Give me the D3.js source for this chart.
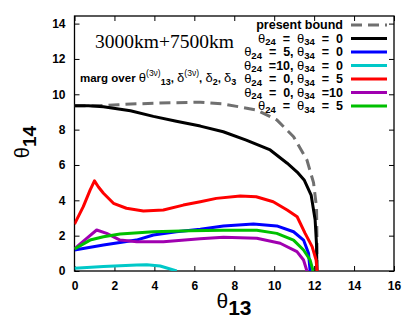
<!DOCTYPE html>
<html>
<head>
<meta charset="utf-8">
<script src="https://cdn.jsdelivr.net/npm/d3@7"></script>
<style>
  body { margin: 0; background: #fff; }
  text { white-space: pre; }
</style>
</head>
<body>
<div id="chart"></div>
<script>
// Data (theta13 on x, theta14 on y)
const xTicks = [0, 2, 4, 6, 8, 10, 12, 14, 16];
const yTicks = [0, 2, 4, 6, 8, 10, 12, 14];

const boundX = [0, 1.45, 2.2, 3.1, 4.8, 6.3, 7.46, 9.13, 10.13, 10.97, 11.64, 11.97, 12.12, 12.14, 12.14];
const boundY = [9.35, 9.36, 9.41, 9.46, 9.52, 9.55, 9.45, 9.11, 8.55, 7.6, 6.28, 5.0, 3.6, 2.0, 0];

const zeroX = [0, 0.7, 1.45, 2.8, 3.95, 5.1, 6.3, 7.45, 8.6, 9.8, 10.65, 11.15, 11.5, 11.85, 12.05, 12.12, 12.14];
const zeroY = [9.35, 9.35, 9.3, 9.07, 8.75, 8.47, 8.2, 7.88, 7.41, 6.85, 6.1, 5.6, 5.15, 4.3, 2.9, 1.5, 0];

const t24_5X = [0, 1.45, 3.1, 3.95, 5.1, 6.3, 7.46, 8.96, 10.13, 10.97, 11.47, 11.72, 11.8];
const t24_5Y = [1.19, 1.47, 1.75, 2.04, 2.22, 2.36, 2.55, 2.66, 2.55, 2.22, 1.75, 1.0, 0];

const t24_10X = [0, 1.45, 3.12, 3.62, 4.29, 5.12];
const t24_10Y = [0.15, 0.25, 0.34, 0.36, 0.28, 0];

const t34_5X = [0, 0.44, 0.78, 1.0, 1.2, 1.45, 1.95, 2.6, 3.45, 4.45, 5.45, 6.3, 7.1, 8.3, 9.1, 9.95, 10.65, 11.15, 11.55, 11.9, 12.1, 12.15];
const t34_5Y = [2.65, 3.64, 4.58, 5.1, 4.75, 4.4, 3.83, 3.55, 3.4, 3.45, 3.73, 3.92, 4.11, 4.24, 4.2, 3.92, 3.45, 3.07, 2.13, 1.38, 0.62, 0];

const t34_10X = [0, 0.61, 1.11, 1.61, 2.28, 3.12, 4.45, 6.29, 7.46, 9.13, 10.3, 11.14, 11.47, 11.64];
const t34_10Y = [1.25, 1.85, 2.32, 2.13, 1.75, 1.66, 1.66, 1.82, 1.91, 1.85, 1.57, 1.1, 0.62, 0];

const bothX = [0, 0.78, 1.45, 2.28, 3.95, 5.8, 7.46, 9.13, 10.13, 10.97, 11.47, 11.8, 11.95];
const bothY = [1.25, 1.75, 1.94, 2.09, 2.22, 2.28, 2.3, 2.3, 2.13, 1.75, 1.19, 0.62, 0];

// Legend labels: [theta24 part, theta34 part]
const legendLabels = [
  null,
  ["  =  ", "  =  0"],
  ["  =  5, ", "  =  0"],
  ["  =10, ", "  =  0"],
  ["  =  0, ", "  =  5"],
  ["  =  0, ", "  =10"],
  ["  =  ", "  =  5"]
];

// Series
const series = [
  {x: boundX, y: boundY, colour: "#707070", dash: "11,6"},
  {x: zeroX, y: zeroY, colour: "#000000"},
  {x: t24_5X, y: t24_5Y, colour: "#0000ff"},
  {x: t24_10X, y: t24_10Y, colour: "#00c8c8"},
  {x: t34_5X, y: t34_5Y, colour: "#ff0000"},
  {x: t34_10X, y: t34_10Y, colour: "#a000b0"},
  {x: bothX, y: bothY, colour: "#00c000"}
];

// Dimensions
const dims = {width: 409, height: 326};
const plot = {left: 74.5, right: 394, top: 16, bottom: 271};

const x = d3.scaleLinear().domain([0, 16]).range([plot.left, plot.right]);
const y = d3.scaleLinear().domain([0, 14.43]).range([plot.bottom, plot.top]);

const sans = "'Liberation Sans', Arial, Helvetica, sans-serif";

// SVG
const svg = d3.select('#chart')
  .append('svg')
  .attr('width', dims.width)
  .attr('height', dims.height)
  .style('background', '#fff');

svg.append('clipPath').attr('id', 'clip')
  .append('rect')
  .attr('x', plot.left).attr('y', plot.top)
  .attr('width', plot.right - plot.left).attr('height', plot.bottom - plot.top);

// Axes (ticks inward, mirrored)
const axisStyle = g => {
  g.select('.domain').remove();
  g.selectAll('text')
    .attr('font-family', sans).attr('font-weight', 'bold')
    .attr('font-size', 12).attr('fill', '#000');
};

svg.append('g')
  .attr('transform', `translate(0,${plot.bottom})`)
  .call(d3.axisBottom(x).tickValues(xTicks).tickSize(-5).tickPadding(10).tickFormat(d3.format('d')))
  .call(axisStyle);

svg.append('g')
  .attr('transform', `translate(0,${plot.top})`)
  .call(d3.axisTop(x).tickValues(xTicks).tickSize(-5).tickFormat(''))
  .call(axisStyle);

svg.append('g')
  .attr('transform', `translate(${plot.left},0)`)
  .call(d3.axisLeft(y).tickValues(yTicks).tickSize(-5).tickPadding(9).tickFormat(d3.format('d')))
  .call(axisStyle);

svg.append('g')
  .attr('transform', `translate(${plot.right},0)`)
  .call(d3.axisRight(y).tickValues(yTicks).tickSize(-5).tickFormat(''))
  .call(axisStyle);

// Frame
svg.append('rect')
  .attr('x', plot.left).attr('y', plot.top)
  .attr('width', plot.right - plot.left).attr('height', plot.bottom - plot.top)
  .attr('fill', 'none').attr('stroke', '#000').attr('stroke-width', 1.3);

// Curves
const line = d3.line()
  .x(d => x(d[0]))
  .y(d => y(d[1]));

const curves = svg.append('g').attr('clip-path', 'url(#clip)');

curves.selectAll('path')
  .data(series)
  .enter()
  .append('path')
    .attr('d', s => line(d3.zip(s.x, s.y)))
    .attr('fill', 'none')
    .attr('stroke', s => s.colour)
    .attr('stroke-width', 3)
    .attr('stroke-linejoin', 'round')
    .attr('stroke-dasharray', s => s.dash || null);

// Helper: append text pieces [string, options]
const addPieces = (textSel, pieces) => {
  pieces.forEach(p => {
    const o = p[1] || {};
    const t = textSel.append('tspan').text(p[0]);
    if (o.size) t.attr('font-size', o.size);
    if (o.weight) t.attr('font-weight', o.weight);
    if (o.family) t.attr('font-family', o.family);
    if (o.dy) t.attr('dy', o.dy);
  });
};

// Title
svg.append('text')
  .attr('x', 95).attr('y', 48)
  .attr('font-family', "'Liberation Serif', 'Times New Roman', serif")
  .attr('font-size', 19.5)
  .text('3000km+7500km');

// Marginalisation note
const note = svg.append('text')
  .attr('x', 80).attr('y', 82)
  .attr('font-family', sans).attr('font-weight', 'bold').attr('font-size', 11.5);
addPieces(note, [
  ['marg over '],
  ['θ', {weight: 'normal', size: 13}],
  ['(3ν)', {weight: 'normal', size: 8.5, dy: -6}],
  ['13', {size: 9, dy: 9}],
  [', ', {dy: -3}],
  ['δ', {weight: 'normal', size: 13}],
  ['(3ν)', {weight: 'normal', size: 8.5, dy: -6}],
  [', ', {dy: 6}],
  ['δ', {weight: 'normal', size: 13}],
  ['2', {size: 9, dy: 3}],
  [', ', {dy: -3}],
  ['δ', {weight: 'normal', size: 13}],
  ['3', {size: 9, dy: 3}]
]);

// Legend
const legendGroup = svg.append('g').attr('class', 'legend');
const legendRight = 343;
const rowY = i => 25 + i * 13.5;

series.forEach((s, i) => {
  legendGroup.append('line')
    .attr('x1', 351).attr('x2', 387)
    .attr('y1', rowY(i)).attr('y2', rowY(i))
    .attr('stroke', s.colour).attr('stroke-width', 3)
    .attr('stroke-dasharray', s.dash || null);

  const t = legendGroup.append('text')
    .attr('x', legendRight).attr('y', rowY(i) + 4)
    .attr('text-anchor', 'end')
    .attr('font-family', sans).attr('font-weight', 'bold').attr('font-size', 12.5);

  const lab = legendLabels[i];
  if (!lab) {
    t.text('present bound');
  } else {
    addPieces(t, [
      ['θ', {weight: 'normal', size: 13}],
      ['24', {size: 9.5, dy: 2.5}],
      [lab[0], {dy: -2.5}],
      ['θ', {weight: 'normal', size: 13}],
      ['34', {size: 9.5, dy: 2.5}],
      [lab[1], {dy: -2.5}]
    ]);
  }
});

// Axis labels
const xLabel = svg.append('text')
  .attr('x', 234).attr('y', 308)
  .attr('text-anchor', 'middle')
  .attr('font-family', sans);
addPieces(xLabel, [
  ['θ', {size: 21}],
  ['13', {size: 21, weight: 'bold', dy: 7}]
]);

const yLabel = svg.append('text')
  .attr('transform', 'translate(29,142) rotate(-90)')
  .attr('text-anchor', 'middle')
  .attr('font-family', sans);
addPieces(yLabel, [
  ['θ', {size: 20}],
  ['14', {size: 19, weight: 'bold', dy: 7}]
]);
</script>
</body>
</html>
